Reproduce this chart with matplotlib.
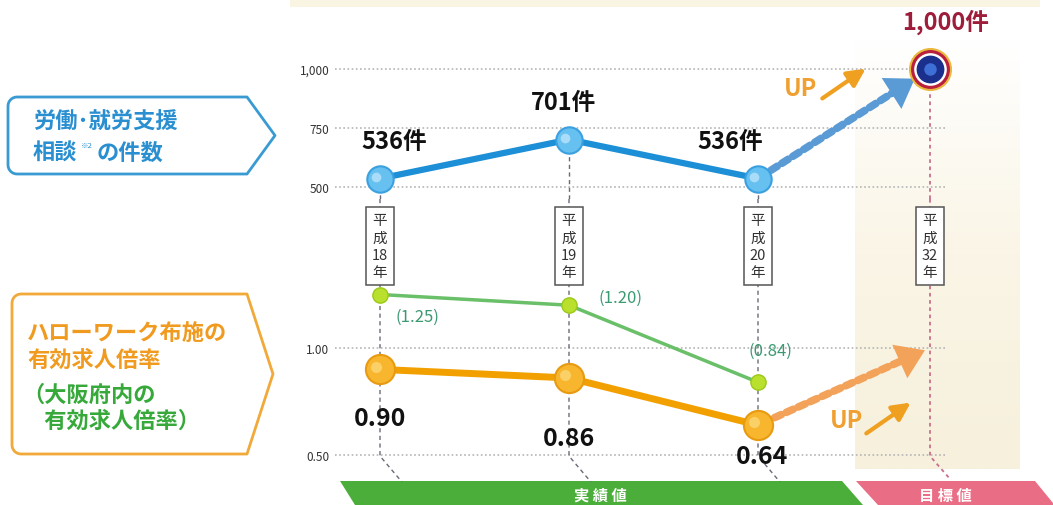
import numpy as np
import matplotlib
matplotlib.use("Agg")
import matplotlib.pyplot as plt
from matplotlib.patches import Polygon
from matplotlib.colors import LinearSegmentedColormap

plt.rcParams['font.family'] = ['Noto Sans CJK JP', 'DejaVu Sans']

# データ
year_labels = ['平成18年', '平成19年', '平成20年']
target_year = '平成32年'
consult_counts = [536, 701, 536]        # 労働・就労支援相談の件数
consult_target = 1000
hw_ratio = [0.90, 0.86, 0.64]           # ハローワーク布施の有効求人倍率
hw_target = 1.00
osaka_ratio = [1.25, 1.20, 0.84]        # 大阪府内の有効求人倍率

top_ticks = [500, 750, 1000]
top_ticklabels = ['500', '750', '1,000']
bot_ticks = [0.50, 1.00]
bot_ticklabels = ['0.50', '1.00']

# 色
BLUE = '#1c8fd6'
ORANGE = '#f2a000'
GREEN = '#6abf69'
TEAL = '#3c9a72'

W, H = 1053, 506
fig = plt.figure(figsize=(W / 100, H / 100), dpi=100)


def fbox(x0, y0, x1, y1):
    return [x0 / W, 1 - y1 / H, (x1 - x0) / W, (y1 - y0) / H]


# 背景（装飾用、ピクセル座標）
bg = fig.add_axes([0, 0, 1, 1])
bg.set_zorder(0)
bg.axis('off')

band_cmap = LinearSegmentedColormap.from_list('band', ['#ffffff', '#faf5e6', '#f6f0dc'])
grad = np.linspace(0, 1, 256).reshape(-1, 1)
bg.imshow(grad, extent=(855, 1020, 470, 40), aspect='auto', cmap=band_cmap, zorder=0)
bg.add_patch(Polygon([(290, 0), (1040, 0), (1040, 8), (290, 8)], color='#faf4e3', lw=0))

# 下部の帯
bg.add_patch(Polygon([(340, 482), (842, 482), (863, 506), (355, 506)], color='#4cae3a', lw=0))
bg.add_patch(Polygon([(856, 482), (1035, 482), (1053, 504), (1053, 506), (878, 506)],
                     color='#e96d85', lw=0))
bg.text(600, 496, '実 績 値', color='white', fontsize=11, fontweight='bold', ha='center', va='center')
bg.text(945, 496, '目 標 値', color='white', fontsize=11, fontweight='bold', ha='center', va='center')


def chevron(x0, y0, x1, y1, tip, r=9):
    ym = (y0 + y1) / 2
    pts = []
    cx, cy = x0 + r, y0 + r
    for t in np.linspace(np.pi, 1.5 * np.pi, 8):
        pts.append((cx + r * np.cos(t), cy + r * np.sin(t)))
    pts += [(x1, y0), (tip, ym), (x1, y1)]
    cx, cy = x0 + r, y1 - r
    for t in np.linspace(0.5 * np.pi, np.pi, 8):
        pts.append((cx + r * np.cos(t), cy + r * np.sin(t)))
    return pts


bg.add_patch(Polygon(chevron(8, 98, 247, 175, 275), closed=True, facecolor='white',
                     edgecolor='#3a9bd2', lw=2, joinstyle='round'))
bg.add_patch(Polygon(chevron(12, 295, 247, 455, 273), closed=True, facecolor='white',
                     edgecolor='#f1a93a', lw=2, joinstyle='round'))

bg.text(33, 122, '労働･就労支援', color='#2a8fd0', fontsize=16, fontweight='bold', va='center')
bg.text(33, 153, '相談', color='#2a8fd0', fontsize=16, fontweight='bold', va='center')
bg.text(81, 146, '※2', color='#2a8fd0', fontsize=5.5, va='center')
bg.text(97, 153, 'の件数', color='#2a8fd0', fontsize=16, fontweight='bold', va='center')

bg.text(27, 333, 'ハローワーク布施の', color='#f09a20', fontsize=16, fontweight='bold', va='center')
bg.text(27, 360, '有効求人倍率', color='#f09a20', fontsize=16, fontweight='bold', va='center')
bg.text(22, 395, '（大阪府内の', color='#36a93a', fontsize=16, fontweight='bold', va='center')
bg.text(22, 421, '\u3000有効求人倍率）', color='#36a93a', fontsize=16, fontweight='bold', va='center')

# UP の文字と矢印
bg.text(800, 89, 'UP', color='#f0a030', fontsize=17, fontweight='bold', ha='center', va='center')
bg.annotate('', xy=(868, 68), xytext=(820, 101),
            arrowprops=dict(arrowstyle='-|>,head_length=0.6,head_width=0.3', lw=3,
                            color='#f0a020', mutation_scale=18))
bg.text(847, 421, 'UP', color='#f0a030', fontsize=17, fontweight='bold', ha='center', va='center')
bg.annotate('', xy=(913, 402), xytext=(864, 436),
            arrowprops=dict(arrowstyle='-|>,head_length=0.6,head_width=0.3', lw=3,
                            color='#f0a020', mutation_scale=18))

bg.set_xlim(0, W)
bg.set_ylim(H, 0)

# データ用の軸
PX = 189.0
xlim = ((335 - 380) / PX, (W - 380) / PX)
x = np.arange(len(year_labels))
x_target = (930 - 380) / PX
grid_end = 2.99

ax_top = fig.add_axes(fbox(335, 0, W, 200))
ax_bot = fig.add_axes(fbox(335, 200, W, H))
ax_top.set_ylim(500 - 12 * 250 / 59, 1000 + 70 * 250 / 59)
ax_bot.set_ylim(0.5 - 50 * 0.5 / 107, 1.0 + 149 * 0.5 / 107)

for ax, ticks, labels in [(ax_top, top_ticks, top_ticklabels), (ax_bot, bot_ticks, bot_ticklabels)]:
    ax.set_zorder(2)
    ax.patch.set_visible(False)
    ax.set_xlim(*xlim)
    for s in ax.spines.values():
        s.set_visible(False)
    ax.set_xticks([])
    ax.set_yticks(ticks)
    ax.set_yticklabels(labels)
    ax.tick_params(axis='y', length=0, pad=4, labelsize=8.5, labelcolor='#333333')
    ax.hlines(ticks, xlim[0], grid_end, colors='#b5b5b5', lw=1.2,
              linestyles=[(0, (1, 1.5))], zorder=1)

# 縦の破線
yb0, yb1 = ax_top.get_ylim()
ax_top.vlines(x, yb0, consult_counts, colors='#6a6a78', lw=1, linestyles=[(0, (3, 2.5))], zorder=2)
ax_top.vlines(x_target, yb0, consult_target, colors='#c8708c', lw=1.3, linestyles=[(0, (2, 2))], zorder=2)

lb0, lb1 = ax_bot.get_ylim()
y_knee, y_end, dx = 0.495, 0.374, 0.116
for xi in x:
    ax_bot.plot([xi, xi, xi + dx], [lb1, y_knee, y_end], color='#6a6a78', lw=1,
                ls=(0, (3, 2.5)), zorder=2)
ax_bot.plot([x_target, x_target, x_target + 0.1], [lb1, y_knee, y_end + 0.02], color='#c8708c',
            lw=1.3, ls=(0, (2, 2)), zorder=2)


def vertical(label):
    out, buf = [], ''
    for ch in label:
        if ch.isdigit():
            buf += ch
        else:
            if buf:
                out.append(buf)
                buf = ''
            out.append(ch)
    if buf:
        out.append(buf)
    return '\n'.join(out)


y_box = 1.0 + (349 - 247) * 0.5 / 107
for xi, lab in zip(list(x) + [x_target], year_labels + [target_year]):
    ax_bot.text(xi, y_box, vertical(lab), ha='center', va='center', fontsize=10.5,
                linespacing=1.3, color='#333333', zorder=5,
                bbox=dict(boxstyle='square,pad=0.4', fc='white', ec='#555555', lw=1.1))

# 相談件数（上段）
ax_top.plot(x, consult_counts, color=BLUE, lw=4.5, zorder=3, solid_capstyle='round')
ax_top.plot(x, consult_counts, 'o', ms=19, mfc='#66c0f0', mec='#3aa0e0', mew=1.5, zorder=4)
ax_top.plot(x - 0.02, np.array(consult_counts) + 8, 'o', ms=7, mfc='#a8dcf8', mec='none', zorder=4)
top_offsets = [(10, 27), (-4, 27), (-20, 27)]
for xi, v, off in zip(x, consult_counts, top_offsets):
    ax_top.annotate(f'{v}件', (xi, v), xytext=off, textcoords='offset points', ha='center',
                    va='center', fontsize=17, fontweight='bold', color='#111111', zorder=6)

# 目標点
for ms, c in [(31, '#eab83c'), (28, '#b8203c'), (23.5, 'white'), (20, '#1b2f8c'), (9, '#3d6fd6')]:
    ax_top.plot(x_target, consult_target, 'o', ms=ms, color=c, mec='none', zorder=5)
ax_top.annotate(f'{consult_target:,}件', (x_target, consult_target), xytext=(11, 34),
                textcoords='offset points', ha='center', va='center', fontsize=17,
                fontweight='bold', color='#9e1d3a', zorder=6)

# 点線矢印（上段）
ax_top.annotate('', xy=(x_target, consult_target), xytext=(x[-1], consult_counts[-1]),
                arrowprops=dict(arrowstyle='-', lw=5.5, color='#5b9bd5', ls=(0, (1, 0.7)),
                                shrinkA=11, shrinkB=28), zorder=3)
ax_top.annotate('', xy=(x_target, consult_target), xytext=(x[-1], consult_counts[-1]),
                arrowprops=dict(arrowstyle='-|>,head_length=0.9,head_width=0.6', lw=0,
                                color='#5b9bd5', mutation_scale=22, shrinkA=11, shrinkB=13),
                zorder=3)

# 有効求人倍率（下段）
ax_bot.plot(x, osaka_ratio, color=GREEN, lw=2.5, zorder=3)
ax_bot.plot(x, osaka_ratio, 'o', ms=11, mfc='#b8e02c', mec='#9cc81a', mew=1, zorder=4)
green_offsets = [(27, -16), (37, 6), (9, 23)]
for xi, v, off in zip(x, osaka_ratio, green_offsets):
    ax_bot.annotate(f'({v:.2f})', (xi, v), xytext=off, textcoords='offset points', ha='center',
                    va='center', fontsize=12, color=TEAL, zorder=6)

ax_bot.plot(x, hw_ratio, color=ORANGE, lw=5, zorder=3, solid_capstyle='round')
ax_bot.plot(x, hw_ratio, 'o', ms=21, mfc='#f7b62e', mec='#e89a10', mew=1.5, zorder=4)
ax_bot.plot(x - 0.02, np.array(hw_ratio) + 0.012, 'o', ms=8, mfc='#fbd066', mec='none', zorder=4)
orange_offsets = [(0, -35), (0, -43), (3, -22)]
for xi, v, off in zip(x, hw_ratio, orange_offsets):
    ax_bot.annotate(f'{v:.2f}', (xi, v), xytext=off, textcoords='offset points', ha='center',
                    va='center', fontsize=18, fontweight='bold', color='#111111', zorder=6)

# 点線矢印（下段）
ax_bot.annotate('', xy=(x_target, hw_target), xytext=(x[-1], hw_ratio[-1]),
                arrowprops=dict(arrowstyle='-', lw=5.5, color='#f3a25a', ls=(0, (1, 0.7)),
                                shrinkA=13, shrinkB=19), zorder=3)
ax_bot.annotate('', xy=(x_target, hw_target), xytext=(x[-1], hw_ratio[-1]),
                arrowprops=dict(arrowstyle='-|>,head_length=0.9,head_width=0.6', lw=0,
                                color='#f3a25a', mutation_scale=22, shrinkA=13, shrinkB=4),
                zorder=3)

fig.savefig('out.png', dpi=100)
